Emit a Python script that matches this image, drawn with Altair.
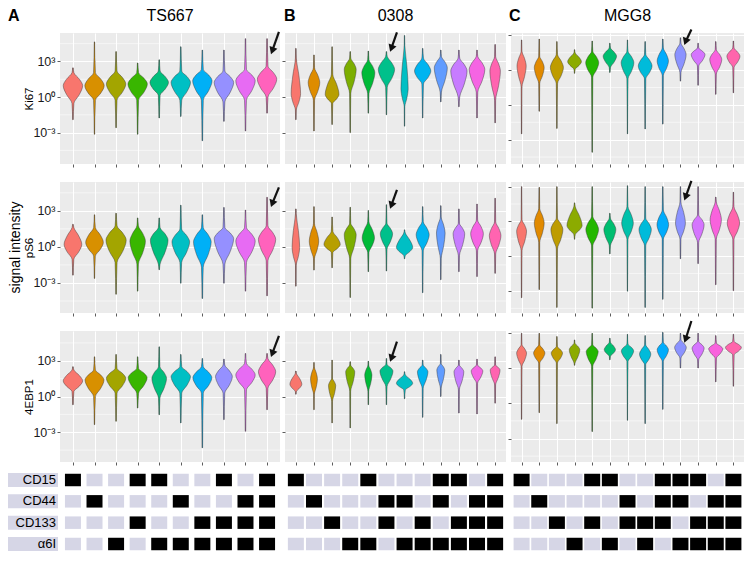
import altair as alt
import pandas as pd

GROUPS = ["TS667", "0308", "MGG8"]
LETTERS = ["A", "B", "C"]
ROWS = ["Ki67", "pS6", "4EBP1"]
SURFACE = ["CD15", "CD44", "CD133", "α6I"]

COLORS_A = ["#F8766D", "#D89000", "#A3A500", "#39B600", "#00BF7D", "#00BFC4",
            "#00B0F6", "#9590FF", "#E76BF3", "#FF62BC"]
COLORS_B = ["#F8766D", "#DE8C00", "#B79F00", "#7CAE00", "#00BA38", "#00C08B",
            "#00BFC4", "#00B4F0", "#619CFF", "#C77CFF", "#F564E3", "#FF64B0"]
COLORS_C = ["#F8766D", "#E18A00", "#BE9C00", "#8CAB00", "#24B700", "#00BE70",
            "#00C1AB", "#00BBDA", "#00ACFC", "#8B93FF", "#D575FE", "#F962DD", "#FF65AC"]

# ---- violins: log10 signal; tail top, body top, widest point, body bottom, tail bottom, half width
A_KI67_HI = [2.46, 4.65, 3.83, 2.87, 3.14, 4.24, 3.96, 3.96, 4.92, 4.92]
A_KI67_BHI = [2.05, 2.05, 2.19, 2.05, 2.19, 2.19, 2.33, 2.19, 2.33, 2.60]
A_KI67_MID = [0.96, 0.96, 1.10, 1.10, 1.23, 1.23, 1.37, 1.23, 1.37, 1.51]
A_KI67_BLO = [-0.54, -0.27, -0.27, -0.27, 0.14, -0.27, -0.27, -0.41, -0.27, 0.00]
A_KI67_LO = [-1.91, -3.14, -2.59, -3.14, -1.77, -1.64, -3.69, -2.05, -2.87, -1.36]
A_KI67_W = [0.45, 0.45, 0.45, 0.45, 0.43, 0.45, 0.45, 0.45, 0.45, 0.45]

B_KI67_HI = [4.10, 3.55, 4.24, 3.83, 3.88, 3.83, 5.19, 4.10, 3.96, 3.96, 3.96, 4.43]
B_KI67_BHI = [3.28, 2.46, 1.92, 3.28, 3.15, 3.42, 4.37, 3.28, 3.42, 3.28, 3.42, 3.42]
B_KI67_MID = [0.28, 1.23, 0.22, 2.33, 2.05, 2.33, 0.69, 2.19, 2.46, 2.19, 2.33, 2.19]
B_KI67_BLO = [-1.09, -0.27, -0.54, 0.28, 0.28, 0.82, -0.82, 1.10, 0.41, 0.00, 0.41, -0.27]
B_KI67_LO = [-1.91, -2.87, -2.32, -3.00, -1.36, -1.50, -2.46, -1.77, -0.41, -0.82, -1.77, -2.18]
B_KI67_W = [0.26, 0.32, 0.38, 0.33, 0.36, 0.45, 0.20, 0.45, 0.36, 0.45, 0.43, 0.29]

C_KI67_HI = [2.60, 2.68, 2.46, 1.76, 2.51, 2.32, 2.60, 2.46, 2.68, 2.79, 2.32, 2.46, 2.51]
C_KI67_BHI = [1.62, 1.20, 1.34, 1.48, 1.62, 1.90, 1.62, 1.34, 1.90, 2.32, 1.90, 1.76, 1.90]
C_KI67_MID = [0.36, 0.22, 0.22, 0.73, 0.64, 1.20, 0.64, 0.36, 0.78, 1.34, 1.34, 0.92, 1.20]
C_KI67_BLO = [-1.45, -1.17, -1.17, 0.08, -0.61, 0.22, -0.75, -0.75, -0.47, -0.20, 0.36, -0.34, 0.22]
C_KI67_LO = [-5.50, -3.55, -5.03, -0.28, -7.09, -0.20, -5.50, -5.08, -4.66, -0.95, -1.31, -2.09, -1.96]
C_KI67_W = [0.26, 0.28, 0.37, 0.39, 0.37, 0.38, 0.36, 0.39, 0.32, 0.32, 0.39, 0.34, 0.37]

A_PS6_HI = [1.88, 2.67, 2.80, 2.41, 2.41, 3.47, 2.67, 3.28, 3.07, 4.13]
A_PS6_BHI = [1.61, 1.61, 1.75, 1.75, 1.61, 1.48, 1.61, 1.61, 1.61, 1.75]
A_PS6_MID = [0.21, 0.37, 0.56, 0.48, 0.56, 0.42, 0.42, 0.69, 0.48, 0.63]
A_PS6_BLO = [-1.03, -0.77, -1.30, -1.43, -1.43, -1.30, -1.69, -1.43, -1.30, -1.16]
A_PS6_LO = [-2.35, -2.62, -3.94, -3.68, -1.90, -3.02, -4.29, -3.02, -3.68, -4.07]
A_PS6_W = [0.41, 0.41, 0.47, 0.36, 0.41, 0.41, 0.41, 0.45, 0.45, 0.40]

B_PS6_HI = [3.16, 3.35, 2.49, 3.30, 3.03, 3.51, 1.42, 3.35, 3.43, 3.16, 3.57, 4.05]
B_PS6_BHI = [2.76, 1.96, 1.29, 1.96, 2.09, 1.96, 1.15, 2.09, 2.49, 1.96, 2.23, 2.09]
B_PS6_MID = [-0.05, 0.48, 0.21, 1.02, 0.75, 1.10, -0.05, 1.02, 1.15, 1.10, 1.10, 0.94]
B_PS6_BLO = [-1.53, -0.99, -0.46, -0.99, -0.46, -0.19, -0.72, -0.32, -0.99, -0.72, -0.32, -0.59]
B_PS6_LO = [-3.27, -1.93, -1.74, -4.21, -2.06, -2.01, -0.99, -3.81, -2.73, -2.06, -2.47, -2.20]
B_PS6_W = [0.21, 0.26, 0.45, 0.33, 0.34, 0.34, 0.45, 0.36, 0.24, 0.32, 0.35, 0.32]

C_PS6_HI = [3.00, 2.94, 3.00, 1.60, 3.00, 0.70, 3.08, 3.00, 3.00, 3.00, 3.00, 2.10, 2.52]
C_PS6_BHI = [0.14, 1.12, 0.28, 1.26, 0.42, 0.28, 1.26, 0.28, 0.98, 1.68, 0.56, 1.68, 1.26]
C_PS6_MID = [-0.84, -0.14, -0.70, -0.36, -0.70, -0.70, -0.14, -0.70, -0.28, -0.14, -0.28, 0.14, -0.14]
C_PS6_BLO = [-2.52, -1.82, -2.38, -1.12, -2.10, -2.10, -1.54, -2.10, -1.54, -1.54, -1.82, -1.54, -1.54]
C_PS6_LO = [-6.58, -5.88, -7.42, -1.54, -7.48, -2.80, -6.02, -7.42, -6.72, -3.22, -3.64, -5.46, -5.97]
C_PS6_W = [0.28, 0.28, 0.34, 0.43, 0.36, 0.34, 0.33, 0.35, 0.33, 0.28, 0.34, 0.32, 0.35]

A_EBP_HI = [2.50, 3.33, 3.53, 3.33, 4.17, 3.53, 3.19, 3.14, 3.61, 3.61]
A_EBP_BHI = [2.22, 2.22, 2.36, 2.36, 2.50, 2.50, 2.50, 2.64, 2.78, 3.19]
A_EBP_MID = [1.31, 1.39, 1.53, 1.58, 1.53, 1.67, 1.58, 1.67, 1.81, 2.08]
A_EBP_BLO = [0.42, 0.00, 0.28, 0.28, -0.14, 0.28, 0.28, 0.28, 0.56, 0.69]
A_EBP_LO = [-0.69, -2.36, -2.08, -0.97, -1.53, -2.22, -4.31, -1.94, -2.92, -1.11]
A_EBP_W = [0.45, 0.44, 0.45, 0.44, 0.34, 0.45, 0.44, 0.39, 0.45, 0.40]

B_EBP_HI = [2.14, 2.86, 3.06, 2.92, 2.97, 3.19, 2.08, 3.06, 3.53, 3.06, 3.14, 3.33]
B_EBP_BHI = [1.94, 2.50, 1.53, 2.64, 2.64, 2.69, 1.81, 2.64, 2.78, 2.64, 2.64, 2.64]
B_EBP_MID = [1.03, 1.47, 0.92, 2.08, 1.81, 2.14, 1.11, 2.08, 2.22, 2.08, 2.14, 2.22]
B_EBP_BLO = [0.42, 0.14, -0.42, 0.42, 0.42, 0.83, 0.56, 0.69, 0.69, 0.56, 1.11, 0.97]
B_EBP_LO = [0.19, -1.11, -2.22, -2.64, -0.69, -0.69, -0.19, -1.75, 0.00, -1.39, -1.47, -0.56]
B_EBP_W = [0.33, 0.19, 0.20, 0.25, 0.20, 0.36, 0.45, 0.29, 0.22, 0.27, 0.32, 0.27]

C_EBP_HI = [2.96, 2.96, 2.68, 2.39, 2.96, 2.54, 2.87, 2.76, 3.04, 2.96, 2.96, 2.76, 2.87]
C_EBP_BHI = [1.97, 1.97, 1.83, 2.11, 1.97, 2.20, 2.03, 1.97, 2.20, 2.39, 2.25, 2.11, 2.25]
C_EBP_MID = [1.27, 1.27, 1.27, 1.55, 1.41, 1.55, 1.46, 1.18, 1.55, 1.75, 1.69, 1.63, 1.75]
C_EBP_BLO = [0.14, 0.42, 0.42, 0.42, 0.14, 0.99, 0.56, 0.28, 0.56, 0.85, 0.70, 0.85, 1.13]
C_EBP_LO = [-4.37, -3.80, -4.73, 0.23, -5.41, 0.70, -4.45, -4.73, -3.52, 0.00, 0.00, -1.18, -1.55]
C_EBP_W = [0.28, 0.32, 0.32, 0.30, 0.34, 0.32, 0.35, 0.32, 0.32, 0.33, 0.34, 0.40, 0.45]

# y-axis domains (log10) per row for columns A/B and for C
DOMAIN_AB = [[-5.65, 5.4], [-5.5, 5.4], [-5.5, 5.5]]
DOMAIN_C = [[-8.1, 3.2], [-7.9, 3.4], [-8.0, 3.15]]

# arrows: target violin index, x offsets of head / tail, log10 of head / tail per row
ARROW_IDX = [9, 5, 9]
ARROW_HEAD_DX = [0.24, 0.27, 0.29]
ARROW_TAIL_DX = [0.55, 0.58, 0.62]
ARROW_HEAD_Y = [[3.9, 4.1, 2.45], [3.6, 3.45, 2.1], [3.6, 3.2, 2.45]]
ARROW_TAIL_Y = [[5.5, 5.45, 3.5], [4.95, 4.75, 3.5], [5.1, 4.6, 4.0]]

# marker matrix
CD15_A = [1, 0, 0, 1, 1, 0, 0, 1, 0, 1]
CD44_A = [0, 1, 0, 0, 0, 1, 0, 0, 1, 1]
CD133_A = [0, 0, 0, 1, 0, 0, 1, 1, 1, 1]
A6I_A = [0, 0, 1, 0, 1, 1, 1, 1, 1, 1]
CD15_B = [1, 0, 0, 0, 1, 0, 0, 0, 1, 1, 0, 1]
CD44_B = [0, 1, 0, 0, 0, 1, 1, 0, 1, 0, 1, 1]
CD133_B = [0, 0, 1, 0, 0, 1, 0, 1, 0, 1, 1, 1]
A6I_B = [0, 0, 0, 1, 1, 0, 1, 1, 1, 1, 1, 1]
CD15_C = [1, 0, 0, 0, 1, 1, 0, 0, 1, 1, 1, 0, 1]
CD44_C = [0, 1, 0, 0, 0, 0, 1, 0, 1, 1, 0, 1, 1]
CD133_C = [0, 0, 1, 0, 1, 0, 1, 1, 1, 0, 1, 1, 1]
A6I_C = [0, 0, 0, 1, 0, 1, 0, 1, 0, 1, 1, 1, 1]

VIOLINS = {
    (0, 0): (A_KI67_HI, A_KI67_BHI, A_KI67_MID, A_KI67_BLO, A_KI67_LO, A_KI67_W),
    (0, 1): (B_KI67_HI, B_KI67_BHI, B_KI67_MID, B_KI67_BLO, B_KI67_LO, B_KI67_W),
    (0, 2): (C_KI67_HI, C_KI67_BHI, C_KI67_MID, C_KI67_BLO, C_KI67_LO, C_KI67_W),
    (1, 0): (A_PS6_HI, A_PS6_BHI, A_PS6_MID, A_PS6_BLO, A_PS6_LO, A_PS6_W),
    (1, 1): (B_PS6_HI, B_PS6_BHI, B_PS6_MID, B_PS6_BLO, B_PS6_LO, B_PS6_W),
    (1, 2): (C_PS6_HI, C_PS6_BHI, C_PS6_MID, C_PS6_BLO, C_PS6_LO, C_PS6_W),
    (2, 0): (A_EBP_HI, A_EBP_BHI, A_EBP_MID, A_EBP_BLO, A_EBP_LO, A_EBP_W),
    (2, 1): (B_EBP_HI, B_EBP_BHI, B_EBP_MID, B_EBP_BLO, B_EBP_LO, B_EBP_W),
    (2, 2): (C_EBP_HI, C_EBP_BHI, C_EBP_MID, C_EBP_BLO, C_EBP_LO, C_EBP_W),
}
COLORS = [COLORS_A, COLORS_B, COLORS_C]
MATRIX = [[CD15_A, CD44_A, CD133_A, A6I_A], [CD15_B, CD44_B, CD133_B, A6I_B],
          [CD15_C, CD44_C, CD133_C, A6I_C]]

WIDTHS = [220, 221, 233]
ROW_H = 131
MAT_H = 64
BG = "#EBEBEB"
LAV = "#D6D6E6"
FONT = "Liberation Sans"
RECT_SHAPE = "M-1,-0.78H1V0.78H-1Z"
LEFT = -52


def violin_frame(hi, bhi, mid, blo, lo, w, colors):
    recs = []
    for i in range(len(hi)):
        prof = [(lo[i], 0.012), (blo[i], 0.1 * w[i]), ((blo[i] + mid[i]) / 2, 0.66 * w[i]),
                (mid[i], w[i]), ((mid[i] + bhi[i]) / 2, 0.66 * w[i]), (bhi[i], 0.1 * w[i]),
                (hi[i], 0.012)]
        for v, h in prof:
            recs.append({"vid": i, "v": v, "xl": i - h, "xr": i + h, "col": colors[i]})
    return pd.DataFrame(recs)


def violin_panel(r, c):
    hi, bhi, mid, blo, lo, w = VIOLINS[(r, c)]
    n = len(hi)
    W = WIDTHS[c]
    dom = DOMAIN_C[r] if c == 2 else DOMAIN_AB[r]
    if c == 2:
        major = [3, 0, -3, -6]
        minor = [1.5, -1.5, -4.5, -7.5]
    else:
        major = [3, 0, -3]
        minor = [4.5, 1.5, -1.5, -4.5]
    xs = alt.Scale(domain=[-0.6, n - 1 + 0.6], nice=False, zero=False)
    ys = alt.Scale(domain=dom, nice=False, zero=False)

    xaxis = alt.Axis(values=list(range(n)), labels=False, ticks=True, tickSize=3,
                     tickColor="#333333", tickWidth=0.8, domain=False, grid=True,
                     gridColor="white", gridWidth=1.1, title=None)
    if c == 0:
        yaxis = alt.Axis(values=major, labels=True,
                         labelExpr="datum.value == 3 ? '10³' : datum.value == 0 ? '10⁰' : datum.value == -3 ? '10⁻³' : ''",
                         labelFontSize=12.5, labelColor="#1a1a1a", labelPadding=2, labelFont=FONT,
                         tickSize=3, tickColor="#333333", tickWidth=0.8, domain=False,
                         grid=True, gridColor="white", gridWidth=1.1,
                         title=ROWS[r], titleX=-31, titleY=ROW_H / 2, titleAngle=270,
                         titleAlign="center", titleBaseline="middle", titleFontSize=11.5,
                         titleFontWeight="normal", titleColor="#000000", titleFont=FONT)
    else:
        yaxis = alt.Axis(values=major, labels=False, tickSize=3, tickColor="#333333",
                         tickWidth=0.8, domain=False, grid=True, gridColor="white",
                         gridWidth=1.1, title=None)

    df = violin_frame(hi, bhi, mid, blo, lo, w, COLORS[c])
    tails = pd.DataFrame({"x": list(range(n)), "lo": lo, "hi": hi})
    minor_df = pd.DataFrame({"m": minor})

    minor_layer = alt.Chart(minor_df).mark_rule(color="white", strokeWidth=0.55).encode(
        y=alt.Y("m:Q", scale=ys, axis=yaxis))
    tail_layer = alt.Chart(tails).mark_rule(color="#4a4a4a", strokeWidth=0.7).encode(
        x=alt.X("x:Q", scale=xs, axis=xaxis),
        y=alt.Y("lo:Q", scale=ys, axis=yaxis),
        y2="hi:Q")
    area_layer = alt.Chart(df).mark_area(orient="horizontal", interpolate="monotone",
                                         stroke="#3a3a3a", strokeWidth=0.45,
                                         fillOpacity=1).encode(
        y=alt.Y("v:Q", scale=ys, axis=yaxis),
        x=alt.X("xl:Q", scale=xs, axis=xaxis),
        x2="xr:Q",
        fill=alt.Fill("col:N", scale=None),
        detail="vid:N")

    ai = ARROW_IDX[c]
    arrow = pd.DataFrame({"xh": [ai + ARROW_HEAD_DX[c]], "yh": [ARROW_HEAD_Y[r][c]],
                          "xt": [ai + ARROW_TAIL_DX[c]], "yt": [ARROW_TAIL_Y[r][c]]})
    arrow_line = alt.Chart(arrow).mark_rule(color="#111111", strokeWidth=2.2).encode(
        x=alt.X("xt:Q", scale=xs, axis=xaxis), y=alt.Y("yt:Q", scale=ys, axis=yaxis),
        x2="xh:Q", y2="yh:Q")
    arrow_head = alt.Chart(arrow).mark_point(shape="triangle-down", filled=True, size=70,
                                             angle=20, color="#111111", opacity=1).encode(
        x=alt.X("xh:Q", scale=xs, axis=xaxis), y=alt.Y("yh:Q", scale=ys, axis=yaxis))

    layers = [minor_layer, tail_layer, area_layer, arrow_line, arrow_head]

    if r == 0:
        ttl = pd.DataFrame({"t": [GROUPS[c]]})
        layers.append(alt.Chart(ttl).mark_text(fontSize=16, font=FONT, color="#000000",
                                               baseline="middle", align="center").encode(
            x=alt.value(W / 2), y=alt.value(-17), text="t:N"))
        let = pd.DataFrame({"t": [LETTERS[c]]})
        lx = [LEFT, -1, -2][c]
        layers.append(alt.Chart(let).mark_text(fontSize=16, font=FONT, fontWeight="bold",
                                               color="#000000", baseline="middle",
                                               align="left").encode(
            x=alt.value(lx), y=alt.value(-17), text="t:N"))
    if r == 1 and c == 0:
        lab = pd.DataFrame({"t": ["signal intensity"]})
        layers.append(alt.Chart(lab).mark_text(fontSize=14, font=FONT, color="#000000",
                                               angle=270, baseline="middle",
                                               align="center").encode(
            x=alt.value(-44), y=alt.value(ROW_H / 2), text="t:N"))

    return alt.layer(*layers).properties(
        width=W, height=ROW_H, view=alt.ViewBackground(fill=BG, strokeWidth=0))


def matrix_panel(c):
    n = len(MATRIX[c][0])
    W = WIDTHS[c]
    recs = []
    for k, name in enumerate(SURFACE):
        for i, on in enumerate(MATRIX[c][k]):
            recs.append({"k": k, "pos": i, "col": "#000000" if on else LAV})
    df = pd.DataFrame(recs)
    xs = alt.Scale(domain=[-0.6, n - 1 + 0.6], nice=False, zero=False)
    ys = alt.Scale(domain=[3, 0], nice=False, zero=False)
    sq = alt.Chart(df).mark_point(shape=RECT_SHAPE, filled=True, size=256, opacity=1,
                                  strokeWidth=0).encode(
        x=alt.X("pos:Q", scale=xs, axis=None),
        y=alt.Y("k:Q", scale=ys, axis=None),
        fill=alt.Fill("col:N", scale=None))
    layers = [sq]
    if c == 0:
        labs = pd.DataFrame({"k": [0, 1, 2, 3], "name": SURFACE})
        labs["top"] = labs["k"] - 0.33
        labs["bot"] = labs["k"] + 0.33
        layers.insert(0, alt.Chart(labs).mark_rect(color=LAV).encode(
            y=alt.Y("top:Q", scale=ys, axis=None), y2="bot:Q",
            x=alt.value(LEFT), x2=alt.value(-2)))
        layers.append(alt.Chart(labs).mark_text(fontSize=13, font=FONT, color="#000000",
                                                align="right", baseline="middle").encode(
            y=alt.Y("k:Q", scale=ys, axis=None),
            x=alt.value(-4), text="name:N"))
    return alt.layer(*layers).properties(width=W, height=MAT_H)


panels = []
for r in range(3):
    for c in range(3):
        panels.append(violin_panel(r, c))
for c in range(3):
    panels.append(matrix_panel(c))

chart = alt.concat(*panels, columns=3, spacing={"row": 18, "column": 5},
                   bounds="flush").properties(
    padding={"left": 0, "top": 0, "right": 0, "bottom": 0}
).configure(font=FONT).configure_view(strokeWidth=0)

chart.save("out.html", embed_options={"renderer": "svg", "actions": False})
